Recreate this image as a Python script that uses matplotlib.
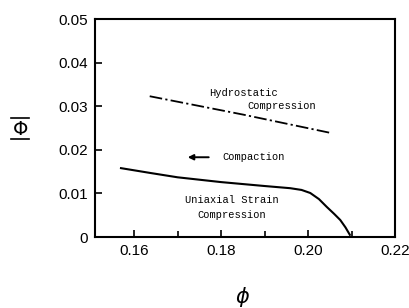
import matplotlib
matplotlib.use("Agg")
import matplotlib.pyplot as plt
from matplotlib.lines import Line2D
from matplotlib.ticker import MultipleLocator

# uniaxial strain compression curve
uni_x = [0.157, 0.1637, 0.170, 0.180, 0.190, 0.1959, 0.1985, 0.2005, 0.2025,
         0.2043, 0.2060, 0.2074, 0.2086, 0.2096]
uni_y = [0.0158, 0.0147, 0.0137, 0.0126, 0.0117, 0.0112, 0.0108, 0.0101, 0.0087,
         0.0069, 0.0053, 0.0039, 0.0022, 0.0005]

# hydrostatic compression line
hyd_x = [0.1636, 0.185, 0.2051]
hyd_y = [0.0323, 0.0281, 0.0239]

x_ticks = [0.16, 0.18, 0.20, 0.22]
x_labels = ["0.16", "0.18", "0.20", "0.22"]
y_ticks = [0, 0.01, 0.02, 0.03, 0.04, 0.05]
y_labels = ["0", "0.01", "0.02", "0.03", "0.04", "0.05"]

tick_font = {"family": "Liberation Sans", "size": 11}
mono = "Liberation Mono"

fig = plt.figure(figsize=(4.09, 3.08), dpi=100)
ax = fig.add_axes([0.232, 0.2305, 0.734, 0.7075])

ax.plot(uni_x, uni_y, color="black", lw=1.5)
ax.plot(hyd_x, hyd_y, color="black", lw=1.3, linestyle=(0, (7, 1.8, 1.2, 1.8)))

ax.annotate("", xy=(0.1717, 0.0183), xytext=(0.1778, 0.0183),
            arrowprops=dict(arrowstyle="-|>", color="black", lw=1.4,
                            mutation_scale=8))
ax.text(0.1804, 0.0183, "Compaction", family=mono, fontsize=7.5, va="center")
ax.text(0.1772, 0.0330, "Hydrostatic", family=mono, fontsize=7.5, va="center")
ax.text(0.1860, 0.0300, "Compression", family=mono, fontsize=7.5, va="center")
ax.text(0.1717, 0.0085, "Uniaxial Strain", family=mono, fontsize=7.5, va="center")
ax.text(0.1745, 0.0050, "Compression", family=mono, fontsize=7.5, va="center")

ax.set_xlim(0.151, 0.22)
ax.set_ylim(0, 0.05)
ax.set_xticks(x_ticks)
ax.set_xticklabels(x_labels, fontdict=tick_font)
ax.set_yticks(y_ticks)
ax.set_yticklabels(y_labels, fontdict=tick_font)
ax.xaxis.set_minor_locator(MultipleLocator(0.01))
ax.tick_params(direction="in", length=5, width=1.2, pad=5)
ax.tick_params(which="minor", direction="in", length=4, width=1.2)
for s in ax.spines.values():
    s.set_linewidth(1.5)

# y label: Phi with bar above and below
fig.text(0.049, 0.581, r"$\Phi$", fontsize=14, ha="center", va="center")
fig.add_artist(Line2D([0.027, 0.071], [0.616, 0.616], color="black", lw=1.2))
fig.add_artist(Line2D([0.027, 0.071], [0.548, 0.548], color="black", lw=1.2))
fig.text(0.594, 0.035, r"$\phi$", fontsize=15, ha="center", va="center")

fig.savefig("out.png", dpi=100)
